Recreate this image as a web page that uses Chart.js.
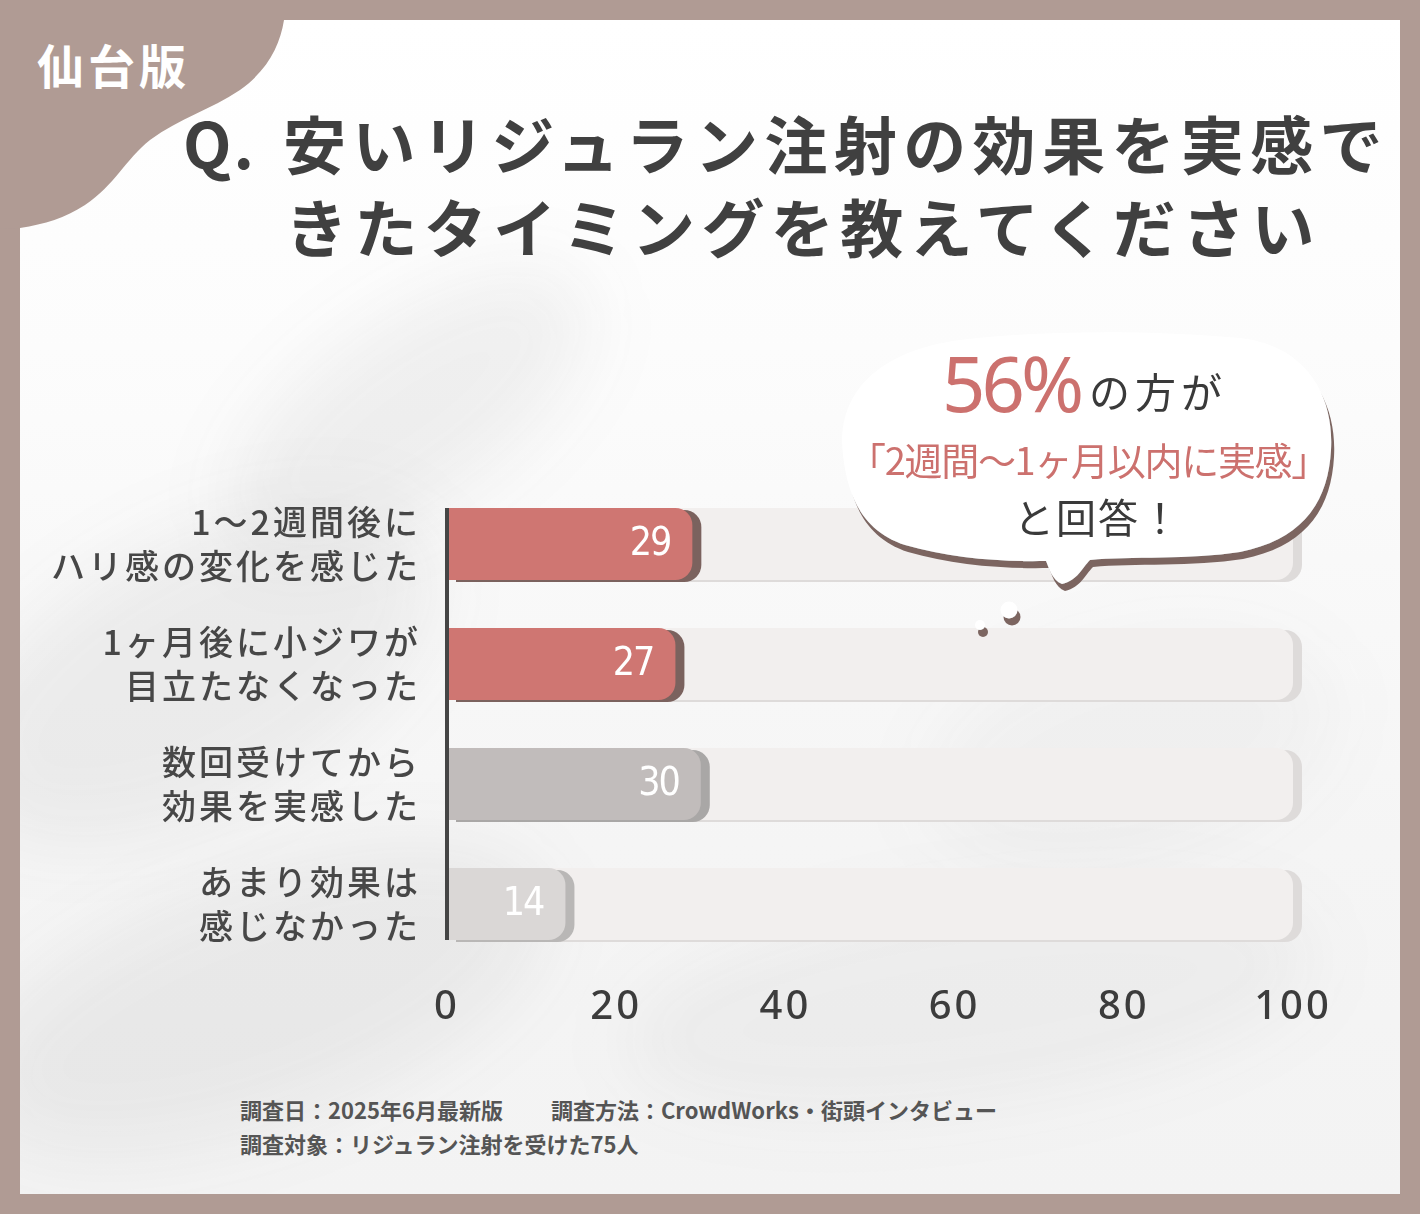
<!DOCTYPE html>
<html lang="ja">
<head>
<meta charset="utf-8">
<title>リジュラン注射 効果を実感できたタイミング</title>
<script src="https://cdn.jsdelivr.net/npm/chart.js@4.4.1/dist/chart.umd.min.js"></script>
<style>
  html, body { margin: 0; padding: 0; }
  body {
    width: 1420px; height: 1214px; position: relative; overflow: hidden;
    background: #b09b94;
    font-family: "Noto Sans CJK JP", "Noto Sans", sans-serif;
  }
  #panel {
    position: absolute; left: 20px; top: 20px; width: 1380px; height: 1174px;
    background: linear-gradient(#ffffff 0%, #fcfcfc 28%, #f5f5f5 70%, #f3f3f3 100%);
    overflow: hidden;
  }
  .blur { position: absolute; background: rgba(70, 70, 70, 0.07); filter: blur(38px); border-radius: 50%; }
  #corner { position: absolute; left: 0; top: 0; }
  #badge {
    position: absolute; left: 37px; top: 40px; color: #fff;
    font-size: 47px; font-weight: 700; letter-spacing: 4px; line-height: 1;
  }
  .title {
    position: absolute; color: #404040; font-size: 63px; font-weight: 700;
    letter-spacing: 6.4px; line-height: 1; white-space: nowrap;
  }
  .title .q { display: inline-block; width: 100px; letter-spacing: 2px; }
  #area { position: absolute; left: 20px; top: 440px; width: 1380px; height: 600px; }
  #bubble { position: absolute; left: 0; top: 0; }
  .bt { position: absolute; white-space: nowrap; line-height: 1; }
  .footer {
    position: absolute; left: 240px; color: #555; font-size: 22px; font-weight: 700;
    line-height: 1; white-space: nowrap;
  }
</style>
</head>
<body>
<div id="panel">
  <div class="blur" style="left:-80px; top:520px; width:520px; height:260px; transform:rotate(-28deg);"></div>
  <div class="blur" style="left:180px; top:300px; width:420px; height:180px; transform:rotate(-35deg);"></div>
  <div class="blur" style="left:-60px; top:860px; width:600px; height:240px; transform:rotate(-20deg);"></div>
  <div class="blur" style="left:600px; top:880px; width:700px; height:200px; transform:rotate(-8deg); background:rgba(70,70,70,0.05);"></div>
  <div class="blur" style="left:900px; top:620px; width:420px; height:220px; transform:rotate(-15deg); background:rgba(70,70,70,0.04);"></div>
</div>

<svg id="corner" width="300" height="240" viewBox="0 0 300 240">
  <path d="M0 0 L284 0 L284 20 C280 45 268 70 240 90 C210 110 180 118 150 140 C125 160 115 185 85 205 C65 218 45 224 20 228 L0 229 Z" fill="#b09b94"/>
</svg>
<div id="badge">仙台版</div>

<div class="title" style="left:183px; top:110px;"><span class="q">Q.</span>安いリジュラン注射の効果を実感で</div>
<div class="title" style="left:285px; top:193px;">きたタイミングを教えてください</div>

<div id="area"><canvas id="chart"></canvas></div>

<svg id="bubble" width="1420" height="700" viewBox="0 0 1420 700">
  <defs>
    <filter id="drop" x="-10%" y="-10%" width="120%" height="130%">
      <feDropShadow dx="3" dy="7" stdDeviation="0.6" flood-color="#7c6561" flood-opacity="1"/>
    </filter>
  </defs>
  <g filter="url(#drop)" fill="#ffffff">
    <path d="M843 455 C836 400 870 352 960 340 C1040 330 1150 330 1240 338 C1310 346 1334 400 1331 450 C1328 505 1300 540 1240 552 C1190 560 1130 556 1090 560 C1082 568 1078 580 1062 584 C1052 580 1049 568 1046 561 C1000 562 950 558 905 545 C865 532 848 500 843 455 Z"/>
    <circle cx="1009" cy="610" r="8.5"/>
    <circle cx="980" cy="625" r="5"/>
  </g>
</svg>
<div class="bt" style="left:942px; top:345px; font-family:'Noto Sans', sans-serif; font-size:76px; color:#cc716e; letter-spacing:-4px;">56%</div>
<div class="bt" style="left:1089px; top:370px; font-size:41px; color:#3a3a3a; letter-spacing:5px;">の方が</div>
<div class="bt" style="left:848px; top:440px; font-size:38px; color:#cc716e; letter-spacing:-1.3px;">「2週間〜1ヶ月以内に実感」</div>
<div class="bt" style="left:1014px; top:496px; font-size:40px; color:#3a3a3a; letter-spacing:2px;">と回答！</div>

<div class="footer" style="top:1098px;">調査日：2025年6月最新版<span style="display:inline-block; width:48px;"></span>調査方法：CrowdWorks・街頭インタビュー</div>
<div class="footer" style="top:1132px;">調査対象：リジュラン注射を受けた75人</div>

<script>
// 回答データ（%）
const categories = [
  ['1〜2週間後に', 'ハリ感の変化を感じた'],
  ['1ヶ月後に小ジワが', '目立たなくなった'],
  ['数回受けてから', '効果を実感した'],
  ['あまり効果は', '感じなかった']
];
const percentValues = [29, 27, 30, 14];
const trackValues = [100, 100, 100, 100];
const xTickValues = [0, 20, 40, 60, 80, 100];

// bars get a hard offset shadow, drawn by hand so the right edge isn't clipped
const barShadow = {
  id: 'barShadow',
  beforeDatasetDraw(chart, args, opts) {
    const ctx = chart.ctx;
    const cols = opts.colors[args.index];
    args.meta.data.forEach((bar, i) => {
      ctx.save();
      ctx.shadowColor = cols[i];
      ctx.shadowOffsetX = opts.offsetX;
      ctx.shadowOffsetY = opts.offsetY;
      ctx.shadowBlur = 0;
      bar.draw(ctx);
      ctx.restore();
    });
    return false;
  }
};

const spacing = {
  id: 'spacing',
  beforeDraw(chart) { chart.ctx.letterSpacing = '3px'; },
  beforeDatasetsDraw(chart) { chart.ctx.letterSpacing = '0px'; }
};

const axisAndLabels = {
  id: 'axisAndLabels',
  afterDatasetsDraw(chart) {
    const ctx = chart.ctx;
    const bars = chart.getDatasetMeta(0).data;
    const first = bars[0], last = bars[bars.length - 1];
    const x = chart.chartArea.left;
    ctx.save();
    ctx.strokeStyle = '#454545';
    ctx.lineWidth = 4;
    ctx.beginPath();
    ctx.moveTo(x, first.y - first.height / 2);
    ctx.lineTo(x, last.y + last.height / 2);
    ctx.stroke();

    ctx.fillStyle = '#ffffff';
    ctx.font = '39px "Liberation Sans Narrow", "DejaVu Sans Condensed", sans-serif';
    ctx.letterSpacing = '-2px';
    ctx.textAlign = 'right';
    ctx.textBaseline = 'middle';
    bars.forEach((bar, i) => {
      ctx.fillText(String(percentValues[i]), bar.x - 22, bar.y + 1);
    });
    ctx.restore();
  }
};

new Chart(document.getElementById('chart'), {
  type: 'bar',
  data: {
    labels: categories,
    datasets: [
      {
        data: percentValues,
        backgroundColor: ['#cf7672', '#cf7672', '#c1bcbb', '#dad7d6'],
        borderRadius: { topLeft: 0, bottomLeft: 0, topRight: 17, bottomRight: 17 },
        borderSkipped: false,
        grouped: false,
        barPercentage: 0.6,
        categoryPercentage: 1
      },
      {
        data: trackValues,
        backgroundColor: '#f2efee',
        borderRadius: { topLeft: 0, bottomLeft: 0, topRight: 17, bottomRight: 17 },
        borderSkipped: false,
        grouped: false,
        barPercentage: 0.6,
        categoryPercentage: 1
      }
    ]
  },
  options: {
    indexAxis: 'y',
    responsive: true,
    maintainAspectRatio: false,
    animation: false,
    layout: { padding: { top: 44, right: 107, left: 0, bottom: 0 } },
    plugins: {
      legend: { display: false },
      tooltip: { enabled: false },
      barShadow: {
        offsetX: 9, offsetY: 2,
        colors: [
          ['#7b625e', '#7b625e', '#a9a7a6', '#b9b7b6'],
          ['#dedbda', '#dedbda', '#dedbda', '#dedbda']
        ]
      }
    },
    scales: {
      x: {
        min: 0, max: 100,
        afterBuildTicks: s => { s.ticks = xTickValues.map(v => ({ value: v })); },
        afterFit: s => { s.height = 76; },
        grid: { display: false, drawTicks: false },
        border: { display: false },
        ticks: {
          color: '#3c3c3c', padding: 20,
          font: { family: '"Noto Sans", sans-serif', size: 40, weight: 500 }
        }
      },
      y: {
        afterFit: s => { s.width = 427; s.paddingTop = 0; s.paddingBottom = 0; },
        grid: { display: false, drawTicks: false },
        border: { display: false },
        ticks: {
          color: '#474747', padding: 26,
          font: { family: '"Noto Sans CJK JP", sans-serif', size: 34, weight: 500, lineHeight: 1.3 }
        }
      }
    }
  },
  plugins: [barShadow, spacing, axisAndLabels]
});
</script>
</body>
</html>
